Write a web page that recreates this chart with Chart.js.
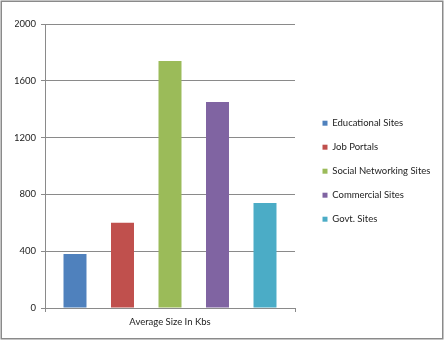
<!DOCTYPE html>
<html>
<head>
<meta charset="utf-8">
<script src="https://cdn.jsdelivr.net/npm/chart.js@4/dist/chart.umd.min.js"></script>
<style>
  html, body { margin: 0; padding: 0; background: #fff; }
  #wrap { position: relative; width: 444px; height: 341px; }
</style>
</head>
<body>
<div id="wrap"><canvas id="chart_avgSize"></canvas></div>
<script>
// data
var categories = ['Average Size In Kbs'];
var seriesNames = ['Educational Sites', 'Job Portals', 'Social Networking Sites', 'Commercial Sites', 'Govt. Sites'];
var seriesValues = [380, 600, 1740, 1450, 740];
var seriesColors = ['#4f81bd', '#c0504d', '#9bbb59', '#8064a2', '#4bacc6'];
var yTicks = [0, 400, 800, 1200, 1600, 2000];

var FONT = 'Lato, "Liberation Sans", sans-serif';

var datasets = seriesNames.map(function (name, i) {
    return {
        label: name,
        data: [seriesValues[i]],
        backgroundColor: seriesColors[i],
        borderWidth: 0,
        categoryPercentage: 0.95,
        barPercentage: 0.484
    };
});

var chart_avgSize = new Chart(document.getElementById('chart_avgSize'), {
    type: 'bar',
    data: {
        labels: categories,
        datasets: datasets
    },
    options: {
        animation: false,
        responsive: true,
        maintainAspectRatio: false,
        layout: {
            padding: { top: 24, left: 15, right: 0, bottom: 9.6 }
        },
        plugins: {
            legend: {
                position: 'right',
                fullSize: false,
                title: { display: true, text: '', font: { size: 1 }, padding: { top: 9.2, bottom: 0 } },
                labels: {
                    boxWidth: 5,
                    boxHeight: 5,
                    padding: 14.5,
                    color: '#222',
                    font: { family: FONT, size: 9.5 }
                }
            },
            tooltip: { enabled: false }
        },
        scales: {
            x: {
                grid: {
                    display: true,
                    drawOnChartArea: false,
                    drawTicks: true,
                    tickLength: 4,
                    color: '#8a8a8a'
                },
                border: { color: '#8a8a8a', width: 1 },
                ticks: {
                    padding: 4,
                    color: '#222',
                    font: { family: FONT, size: 9.5 }
                }
            },
            y: {
                min: 0,
                max: 2000,
                afterBuildTicks: function (scale) {
                    scale.ticks = yTicks.map(function (v) { return { value: v }; });
                },
                afterFit: function (scale) { scale.width = 30; },
                grid: {
                    color: '#8a8a8a',
                    tickLength: 4
                },
                border: { color: '#8a8a8a', width: 1 },
                ticks: {
                    padding: 5,
                    color: '#222',
                    font: { family: FONT, size: 9.5 },
                    callback: function (v) { return String(v); }
                }
            },
            gap: {
                type: 'linear',
                position: 'right',
                display: true,
                grid: { display: false },
                border: { display: false },
                ticks: { display: false },
                afterFit: function (scale) { scale.width = 13; }
            }
        }
    },
    plugins: [{
        id: 'legendWidth',
        afterInit: function (chart) {
            var lg = chart.legend;
            var origFit = lg.fit;
            lg.fit = function () {
                origFit.call(this);
                this.width = 136;
            };
        }
    }, {
        id: 'frame',
        beforeDraw: function (chart) {
            var ctx = chart.ctx;
            ctx.save();
            ctx.fillStyle = 'white';
            ctx.fillRect(0, 0, chart.width, chart.height);
            ctx.strokeStyle = '#8a8a8a';
            ctx.lineWidth = 1.5;
            ctx.strokeRect(1.25, 1.25, 441.5, 337.5);
            ctx.restore();
        }
    }]
});
</script>
</body>
</html>
